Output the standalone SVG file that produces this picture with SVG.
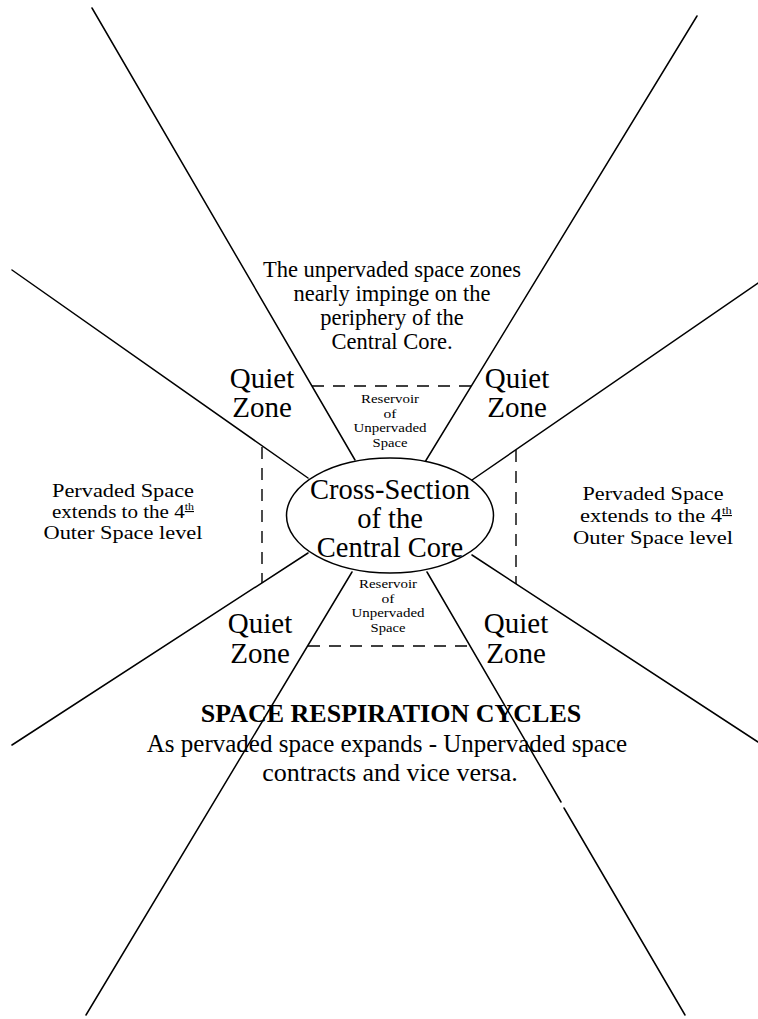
<svg xmlns="http://www.w3.org/2000/svg" width="758" height="1019" viewBox="0 0 758 1019">
<style>
  .ln { stroke:#000; stroke-width:1.5; fill:none; stroke-linecap:round; }
  .dash { stroke:#000; stroke-width:1.4; fill:none; stroke-dasharray:12 9; }
  text { font-family:"Liberation Serif","Times New Roman",serif; fill:#000; text-anchor:middle; }
  .qz { font-size:29px; }
  .note { font-size:22.5px; }
  .side { font-size:19.5px; }
  .res { font-size:13px; }
  .core { font-size:28.5px; }
  .title { font-size:26px; font-weight:bold; }
  .body { font-size:25px; }
  .body2 { font-size:26px; }
  .sup { font-size:11px; text-decoration:underline; }
</style>
<rect width="758" height="1019" fill="#fff"/>
<g id="connectors">
  <line class="ln" x1="92" y1="8" x2="355" y2="460"/>
  <line class="ln" x1="697" y1="16" x2="425" y2="462"/>
  <line class="ln" x1="12" y1="270" x2="308" y2="478"/>
  <line class="ln" x1="758" y1="283" x2="472" y2="480"/>
  <line class="ln" x1="12" y1="745" x2="308" y2="553"/>
  <line class="ln" x1="758" y1="742" x2="472" y2="555"/>
  <line class="ln" x1="86" y1="1015" x2="352" y2="572"/>
  <line class="ln" x1="427" y1="572" x2="561" y2="802"/>
  <line class="ln" x1="564" y1="808" x2="685" y2="1015"/>
  <line class="dash" x1="312" y1="386" x2="471" y2="386"/>
  <line class="dash" x1="308" y1="646" x2="470" y2="646"/>
  <line class="dash" x1="262" y1="447" x2="262" y2="583"/>
  <line class="dash" x1="516" y1="450" x2="516" y2="584"/>
</g>
<g id="core">
  <ellipse cx="390" cy="515.5" rx="103.5" ry="57.5" fill="#fff" stroke="#000" stroke-width="1.5"/>
  <text class="core" x="390" y="499">Cross-Section</text>
  <text class="core" x="390" y="528">of the</text>
  <text class="core" x="390" y="557">Central Core</text>
</g>
<g id="note-top">
  <text class="note" x="392" y="277">The unpervaded space zones</text>
  <text class="note" x="392" y="301">nearly impinge on the</text>
  <text class="note" x="392" y="325">periphery of the</text>
  <text class="note" x="392" y="349">Central Core.</text>
</g>
<g id="quiet-tl">
  <text class="qz" x="262" y="388">Quiet</text>
  <text class="qz" x="262" y="417">Zone</text>
</g>
<g id="quiet-tr">
  <text class="qz" x="517" y="388">Quiet</text>
  <text class="qz" x="517" y="417">Zone</text>
</g>
<g id="quiet-bl">
  <text class="qz" x="260" y="633">Quiet</text>
  <text class="qz" x="260" y="663">Zone</text>
</g>
<g id="quiet-br">
  <text class="qz" x="516" y="633">Quiet</text>
  <text class="qz" x="516" y="663">Zone</text>
</g>
<g id="reservoir-top">
  <text class="res" x="390" y="403" textLength="58" lengthAdjust="spacingAndGlyphs">Reservoir</text>
  <text class="res" x="390" y="417.5" textLength="13" lengthAdjust="spacingAndGlyphs">of</text>
  <text class="res" x="390" y="432" textLength="73" lengthAdjust="spacingAndGlyphs">Unpervaded</text>
  <text class="res" x="390" y="446.5" textLength="35" lengthAdjust="spacingAndGlyphs">Space</text>
</g>
<g id="reservoir-bottom">
  <text class="res" x="388" y="588" textLength="58" lengthAdjust="spacingAndGlyphs">Reservoir</text>
  <text class="res" x="388" y="602.5" textLength="13" lengthAdjust="spacingAndGlyphs">of</text>
  <text class="res" x="388" y="617" textLength="73" lengthAdjust="spacingAndGlyphs">Unpervaded</text>
  <text class="res" x="388" y="631.5" textLength="35" lengthAdjust="spacingAndGlyphs">Space</text>
</g>
<g id="pervaded-left">
  <text class="side" x="123" y="497" textLength="142" lengthAdjust="spacingAndGlyphs">Pervaded Space</text>
  <text class="side" x="123" y="518" textLength="142" lengthAdjust="spacingAndGlyphs">extends to the 4<tspan class="sup" dy="-8">th</tspan></text>
  <text class="side" x="123" y="539" textLength="159" lengthAdjust="spacingAndGlyphs">Outer Space level</text>
</g>
<g id="pervaded-right">
  <text class="side" x="653" y="500" textLength="141" lengthAdjust="spacingAndGlyphs">Pervaded Space</text>
  <text class="side" x="656" y="522" textLength="152" lengthAdjust="spacingAndGlyphs">extends to the 4<tspan class="sup" dy="-8">th</tspan></text>
  <text class="side" x="653" y="544" textLength="160" lengthAdjust="spacingAndGlyphs">Outer Space level</text>
</g>
<g id="caption">
  <text class="title" x="391" y="722">SPACE RESPIRATION CYCLES</text>
  <text class="body" x="387" y="752">As pervaded space expands - Unpervaded space</text>
  <text class="body2" x="390" y="781">contracts and vice versa.</text>
</g>
</svg>
